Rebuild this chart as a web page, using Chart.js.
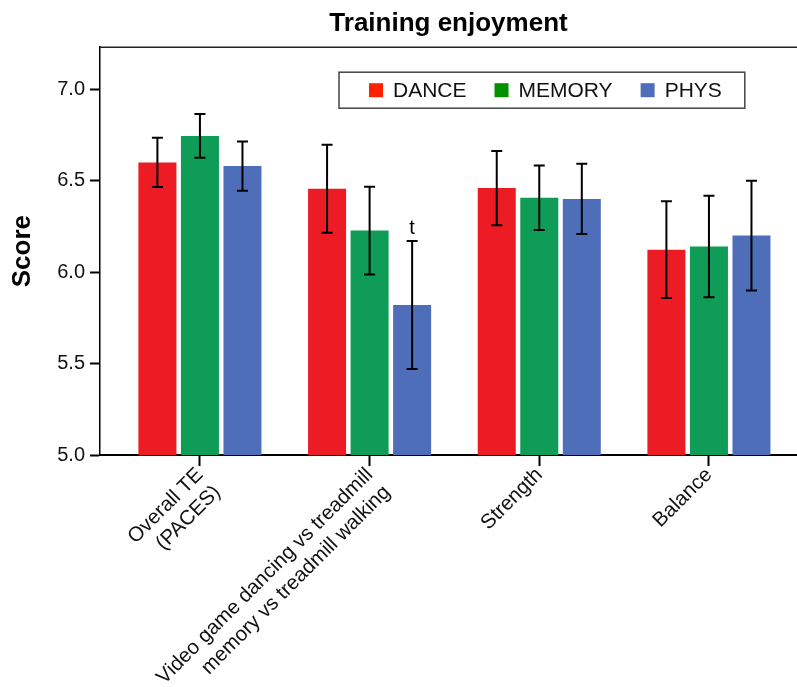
<!DOCTYPE html>
<html><head><meta charset="utf-8">
<script src="https://cdn.jsdelivr.net/npm/chart.js@4"></script>
<style>html,body{margin:0;padding:0;background:#fff;} canvas{display:block;}</style>
</head><body>
<canvas id="c" width="797" height="687"></canvas>
<script>
// ---- data ----
const categories = [['Overall TE', '(PACES)'], ['Video game dancing vs treadmill', 'memory vs treadmill walking'], 'Strength', 'Balance'];
const seriesNames = ['DANCE', 'MEMORY', 'PHYS'];
const danceMean = [6.60, 6.456, 6.46, 6.123];
const danceErr = [0.135, 0.24, 0.203, 0.265];
const memoryMean = [6.745, 6.227, 6.407, 6.14];
const memoryErr = [0.12, 0.24, 0.176, 0.277];
const physMean = [6.58, 5.82, 6.40, 6.20];
const physErr = [0.135, 0.35, 0.192, 0.30];
const physMarks = ['', 't', '', ''];
const yTicks = [5.0, 5.5, 6.0, 6.5, 7.0];

// ---- styles ----
const FONT = '"Liberation Sans", Arial, Helvetica, sans-serif';
const barColors = ['#ED1C24', '#0E9C57', '#4F6EBA'];
const legendColors = ['#FF2200', '#009000', '#4F6EBA'];

function toPoints(arr) { return arr.map((v, i) => ({ x: i, y: v })); }

const means = [danceMean, memoryMean, physMean];
const errs = [danceErr, memoryErr, physErr];
const marks = [null, null, physMarks];

const datasets = seriesNames.map((name, k) => ({
  label: name,
  data: toPoints(means[k]),
  errors: errs[k],
  marks: marks[k],
  backgroundColor: barColors[k],
  borderWidth: 0,
  categoryPercentage: 0.752,
  barPercentage: 0.894
}));

const errorBarPlugin = {
  id: 'errorBars',
  afterDatasetsDraw(chart) {
    const ctx = chart.ctx, ys = chart.scales.y;
    chart.data.datasets.forEach((ds, di) => {
      const meta = chart.getDatasetMeta(di);
      meta.data.forEach((bar, i) => {
        const v = ds.data[i].y, e = ds.errors[i];
        const top = ys.getPixelForValue(v + e), bot = ys.getPixelForValue(v - e);
        ctx.save();
        ctx.strokeStyle = '#000'; ctx.lineWidth = 2;
        ctx.beginPath();
        ctx.moveTo(bar.x, top); ctx.lineTo(bar.x, bot);
        ctx.moveTo(bar.x - 5.5, top); ctx.lineTo(bar.x + 5.5, top);
        ctx.moveTo(bar.x - 5.5, bot); ctx.lineTo(bar.x + 5.5, bot);
        ctx.stroke();
        if (ds.marks && ds.marks[i]) {
          ctx.fillStyle = '#000';
          ctx.font = '20px ' + FONT;
          ctx.textAlign = 'center';
          ctx.textBaseline = 'alphabetic';
          ctx.fillText(ds.marks[i], bar.x, top - 7);
        }
        ctx.restore();
      });
    });
  }
};

const framePlugin = {
  id: 'frame',
  afterDraw(chart) {
    const ctx = chart.ctx, a = chart.chartArea;
    ctx.save();
    ctx.strokeStyle = '#222'; ctx.lineWidth = 1.5;
    ctx.beginPath(); ctx.moveTo(a.left, a.top); ctx.lineTo(a.right, a.top); ctx.stroke();
    ctx.restore();
  }
};

const boxLegendPlugin = {
  id: 'boxLegend',
  afterDraw(chart) {
    const ctx = chart.ctx, a = chart.chartArea;
    const x0 = a.left + 239, y0 = a.top + 25, h = 36;
    ctx.save();
    ctx.font = '21px ' + FONT;
    let x = x0 + 30;
    const items = chart.data.datasets.map((ds, k) => {
      const w = ctx.measureText(ds.label).width;
      const it = { sx: x, tx: x + 24, label: ds.label, color: legendColors[k] };
      x += 24 + w + 28;
      return it;
    });
    const x1 = x - 28 + 23;
    ctx.strokeStyle = '#444'; ctx.lineWidth = 1.5;
    ctx.strokeRect(x0, y0, x1 - x0, h);
    items.forEach(it => {
      ctx.fillStyle = it.color;
      ctx.fillRect(it.sx, y0 + 11, 14, 14);
      ctx.fillStyle = '#111';
      ctx.textAlign = 'left'; ctx.textBaseline = 'middle';
      ctx.fillText(it.label, it.tx, y0 + h / 2 + 1);
    });
    ctx.restore();
  }
};

new Chart(document.getElementById('c'), {
  type: 'bar',
  data: { datasets },
  options: {
    responsive: false,
    animation: false,
    layout: { padding: { left: 0, right: 0, top: 0, bottom: 0 } },
    plugins: {
      legend: { display: false },
      tooltip: { enabled: false },
      title: {
        display: true, text: 'Training enjoyment', fullSize: false,
        color: '#000', font: { family: FONT, size: 26, weight: 'bold' },
        padding: { top: 8, bottom: 8 }
      }
    },
    scales: {
      x: {
        type: 'linear', min: -0.589, max: 3.519, offset: false,
        afterBuildTicks(s) { s.ticks = categories.map((c, i) => ({ value: i })); },
        afterFit(s) { s.height = 232; },
        ticks: {
          autoSkip: false, minRotation: 45, maxRotation: 45, padding: -3,
          color: '#111', font: { family: FONT, size: 20.5 },
          callback: (v) => categories[v]
        },
        grid: { display: true, offset: false, drawOnChartArea: false, drawTicks: true, tickLength: 11, tickWidth: 2, tickColor: '#000' },
        border: { display: true, color: '#000', width: 2 }
      },
      y: {
        min: 5.0, max: 7.23,
        afterBuildTicks(s) { s.ticks = yTicks.map(v => ({ value: v })); },
        afterFit(s) { s.width = 100; },
        ticks: {
          padding: 5, color: '#111', font: { family: FONT, size: 20 },
          callback: (v) => Number(v).toFixed(1)
        },
        grid: { display: true, drawOnChartArea: false, drawTicks: true, tickLength: 10, tickWidth: 2, tickColor: '#000' },
        border: { display: true, color: '#000', width: 1.5 },
        title: {
          display: true, text: 'Score', color: '#000',
          font: { family: FONT, size: 26, weight: 'bold' },
          padding: { top: 7, bottom: 0 }
        }
      }
    }
  },
  plugins: [errorBarPlugin, framePlugin, boxLegendPlugin]
});
</script>
</body></html>
